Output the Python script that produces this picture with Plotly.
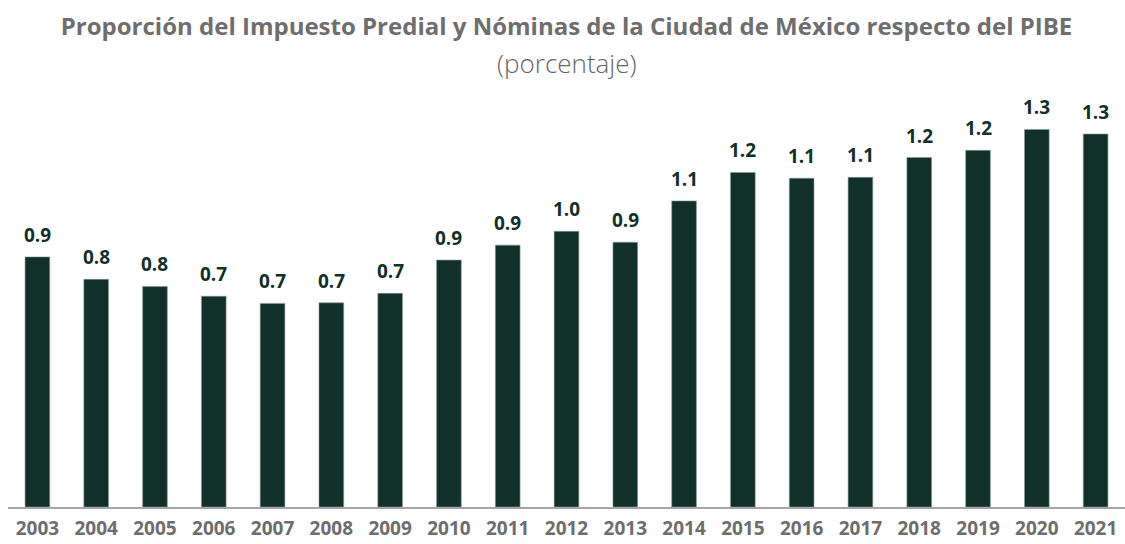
import plotly.graph_objects as go

years = ["2003", "2004", "2005", "2006", "2007", "2008", "2009", "2010", "2011", "2012",
         "2013", "2014", "2015", "2016", "2017", "2018", "2019", "2020", "2021"]
values = [0.871, 0.793, 0.768, 0.734, 0.709, 0.711, 0.744, 0.860, 0.912, 0.960,
          0.922, 1.066, 1.165, 1.145, 1.148, 1.217, 1.242, 1.315, 1.299]
labels = [f"{v:.1f}" for v in values]

BAR = "#12302a"
GRAY = "#6e6e6e"
FONT = "Open Sans, Noto Sans, sans-serif"

W, H = 1125, 544
MT, MB = 105, 37
PLOT_H = H - MT - MB

fig = go.Figure()
fig.add_trace(go.Bar(
    x=years, y=values,
    marker=dict(color=BAR, line=dict(color="#8a9a94", width=0.6)),
    hoverinfo="skip",
))

for i, (v, t) in enumerate(zip(values, labels)):
    fig.add_annotation(
        x=i, y=v, text=f"<b>{t}</b>", showarrow=False,
        xref="x", yref="y", yanchor="bottom", yshift=7,
        font=dict(family=FONT, size=19, color=BAR),
    )

fig.add_annotation(
    text="(porcentaje)", xref="paper", yref="paper",
    x=0.5, y=(H - MB - 63) / PLOT_H, yanchor="middle", showarrow=False,
    font=dict(family=FONT, size=26, color="#666666", weight=300),
)

fig.update_layout(
    width=W, height=H,
    paper_bgcolor="white", plot_bgcolor="white",
    margin=dict(l=8, r=0, t=MT, b=MB),
    showlegend=False,
    bargap=0.58,
    title=dict(
        text="<b>Proporción del Impuesto Predial y Nóminas de la Ciudad de México respecto del PIBE</b>",
        x=0.5, xanchor="center", xref="paper",
        y=1 - 27 / H, yanchor="middle", yref="container",
        font=dict(family=FONT, size=24, color=GRAY),
    ),
    xaxis=dict(
        type="category", range=[-0.5, len(years) - 0.5],
        showgrid=False, showline=True, linecolor="#a6a6a6", linewidth=2,
        ticks="", ticklabelstandoff=3,
        tickfont=dict(family=FONT, size=19, color=GRAY, weight="bold"),
        fixedrange=True,
    ),
    yaxis=dict(
        range=[0, 1.4], showgrid=False, showticklabels=False, zeroline=False,
        showline=False, fixedrange=True,
    ),
)

fig.write_html(
    "out.html",
    config={"displayModeBar": False},
    post_script="document.body.style.margin='0';document.body.style.overflow='hidden';",
)
